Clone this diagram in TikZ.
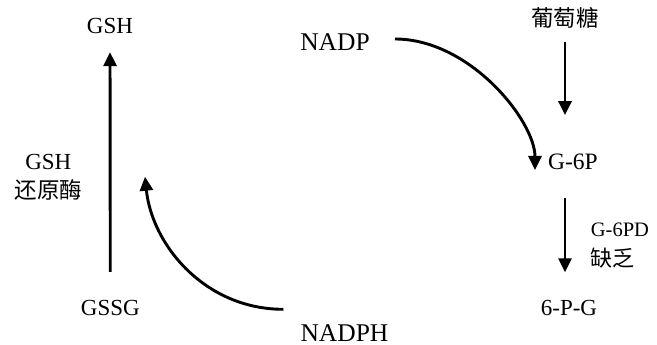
\documentclass[tikz,border=0pt]{standalone}
\usepackage{fontspec}
\setmainfont{Liberation Serif}
\newfontfamily\cjk{Noto Sans CJK SC}
\usetikzlibrary{arrows.meta,calc}
\begin{document}
\begin{tikzpicture}[x=1pt,y=-1pt,
  lbl/.style={inner sep=0pt, anchor=base, font=\fontsize{23}{27}\selectfont},
  big/.style={inner sep=0pt, anchor=base, font=\fontsize{25.5}{30}\selectfont},
  cjklbl/.style={inner sep=0pt, anchor=base, font=\fontsize{22.5}{27}\selectfont\cjk},
  arr/.style={line width=2.9pt, -{Triangle[length=14pt,width=13pt]}}]
\useasboundingbox (0,0) rectangle (657,345);
% nodes
\node[lbl] (gsh) at (110,34) {GSH};
\node[big] (nadp) at (335,51) {NADP};
\node[cjklbl] (glc) at (565,27) {葡萄糖};
\node[lbl, font=\fontsize{23.5}{27}\selectfont] (g6p) at (573,169.3) {G-6P};
\node[lbl, anchor=base west, font=\fontsize{20.5}{24}\selectfont] (g6pd) at (590.7,236.7) {G-6PD};
\node[cjklbl, anchor=base west, font=\fontsize{22}{26}\selectfont\cjk] (lack) at (590.7,266.5) {缺乏};
\node[lbl] (pg) at (569,315) {6-P-G};
\node[lbl] (gssg) at (110.3,315) {GSSG};
\node[big] (nadph) at (344.5,341.5) {NADPH};
\node[lbl] (enz1) at (48.3,169.3) {GSH};
\node[cjklbl] (enz2) at (48.6,198.5) {还原酶};
% free curve ends
\coordinate (c1s) at (395,39);
\coordinate (c1e) at (535,170);
\coordinate (c2s) at (283.3,309.3);
\coordinate (c2e) at (145,176.7);
% connectors
\draw[arr, shorten <=27.7pt, shorten >=17.7pt] (gssg.north) -- (gsh.south);
\draw[arr, shorten <=13.2pt, shorten >=38.4pt] (glc.south) -- (glc.south |- g6p.north);
\draw[arr, shorten <=28.4pt, shorten >=27.3pt] (g6p.south -| glc.south) -- (pg.north -| glc.south);
\draw[arr] (c1s) .. controls (470,39) and (535,121) .. (c1e);
\draw[arr] (c2s) .. controls (205,309.3) and (152,245) .. (c2e);
\end{tikzpicture}
\end{document}
